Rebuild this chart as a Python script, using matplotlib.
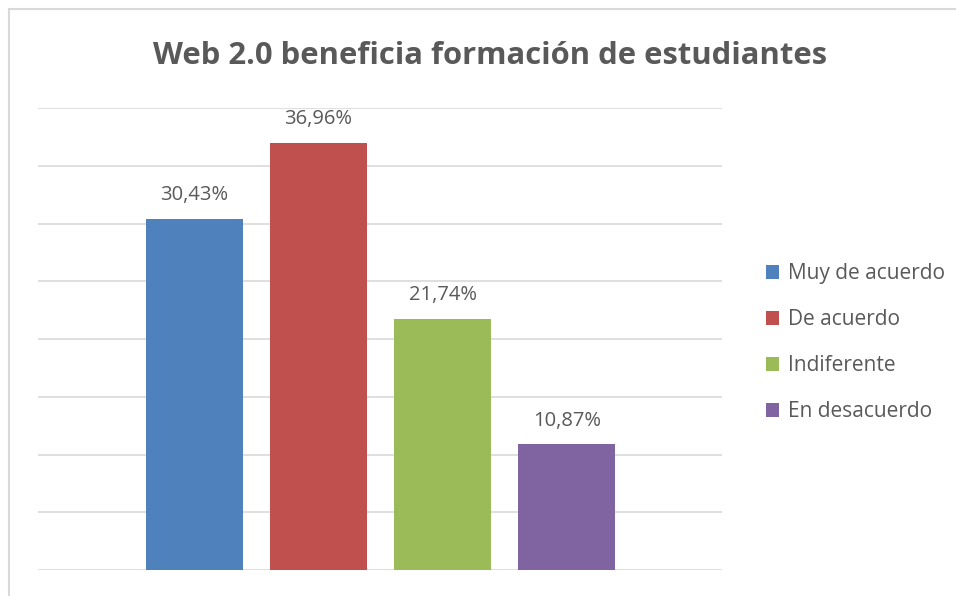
"""Web 2.0 beneficia formación de estudiantes — Excel-style bar chart."""
import numpy as np
import matplotlib
matplotlib.use("Agg")
import matplotlib.pyplot as plt
from matplotlib.patches import Rectangle

# ── data ─────────────────────────────────────────────────────────────────────
categories = ["Muy de acuerdo", "De acuerdo", "Indiferente", "En desacuerdo"]
values     = [30.43, 36.96, 21.74, 10.87]
labels     = ["30,43%", "36,96%", "21,74%", "10,87%"]
colors     = ["#4F81BD", "#C0504D", "#9BBB59", "#8064A2"]

TEXT = "#595959"
GRID = "#D9D9D9"
W, H = 956, 596

plt.rcParams["font.family"] = ["Open Sans", "DejaVu Sans"]

fig = plt.figure(figsize=(W / 100, H / 100), dpi=100, facecolor="white")

# chart border (Excel chart area)
fig.patches.append(Rectangle((9 / W, -0.1), 1.2, 1 - 9 / H + 0.1,
                             transform=fig.transFigure, fill=False,
                             edgecolor=GRID, linewidth=1.5))

ax = fig.add_axes([38 / W, (H - 570) / H, (722 - 38) / W, (570 - 108) / H])
x = np.arange(len(values))
bars = ax.bar(x, values, width=0.78, color=colors, zorder=3, label=categories)
ax.set_xlim(-1.26, 4.25)
ax.set_ylim(0, 40)
ax.set_yticks(np.arange(0, 41, 5))
ax.grid(axis="y", color=GRID, linewidth=1.2, zorder=0)
ax.set_xticks([])
ax.tick_params(axis="y", length=0, labelleft=False)
for s in ax.spines.values():
    s.set_visible(False)

for b, lab in zip(bars, labels):
    ax.annotate(lab, (b.get_x() + b.get_width() / 2, b.get_height()),
                xytext=(0, 10), textcoords="offset points",
                ha="center", va="bottom", fontsize=14.5, color=TEXT)

fig.text(490 / W, 1 - 56 / H, "Web 2.0 beneficia formación de estudiantes",
         ha="center", va="center", fontsize=22.3, fontweight="bold", color=TEXT)

leg = fig.legend(handles=list(bars), labels=categories, loc="center left",
                 bbox_to_anchor=(747 / W, 1 - 342.5 / H), frameon=False,
                 fontsize=15, labelcolor=TEXT, handlelength=0.65,
                 handleheight=0.65, handletextpad=0.4, labelspacing=1.2)

plt.savefig("out.png", dpi=100, facecolor="white")
plt.close()
